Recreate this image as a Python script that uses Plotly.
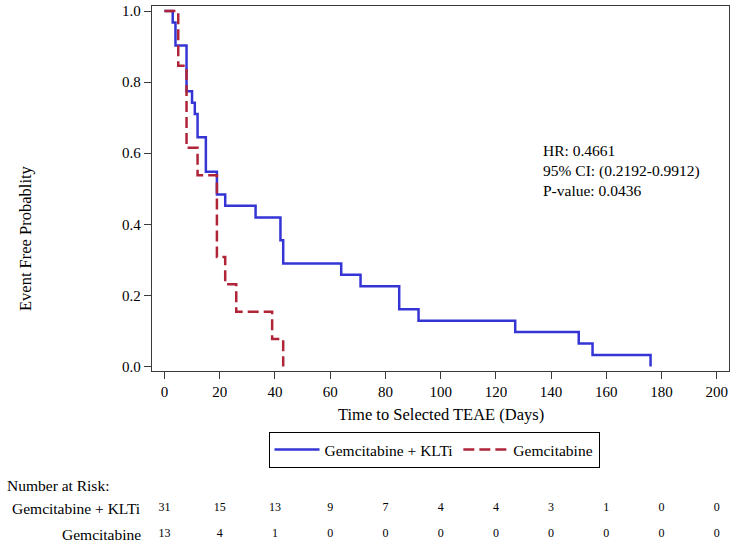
import plotly.graph_objects as go

# ---- data ----
combo_name = "Gemcitabine + KLTi"
combo_time = [0, 3, 4, 8, 10, 11, 12, 15, 19, 22, 33, 42, 43, 64, 71, 85, 92, 127, 150, 155, 176]
combo_surv = [1.0, 0.968, 0.903, 0.774, 0.742, 0.710, 0.645, 0.548, 0.484, 0.452, 0.419,
              0.355, 0.290, 0.258, 0.226, 0.161, 0.129, 0.097, 0.065, 0.032, 0.0]

mono_name = "Gemcitabine"
mono_time = [0, 5, 8, 12, 19, 22, 26, 39, 43]
mono_surv = [1.0, 0.846, 0.615, 0.538, 0.308, 0.231, 0.154, 0.077, 0.0]

risk_times = [0, 20, 40, 60, 80, 100, 120, 140, 160, 180, 200]
risk_combo = [31, 15, 13, 9, 7, 4, 4, 3, 1, 0, 0]
risk_mono = [13, 4, 1, 0, 0, 0, 0, 0, 0, 0, 0]

x_ticks = [0, 20, 40, 60, 80, 100, 120, 140, 160, 180, 200]
y_ticks = [0.0, 0.2, 0.4, 0.6, 0.8, 1.0]
stats_text = "HR: 0.4661<br>95% CI: (0.2192-0.9912)<br>P-value: 0.0436"

# ---- styling ----
W, H = 735, 550
FONT = "Liberation Serif, Times New Roman, serif"
BLUE = "#3535D6"
RED = "#B02438"
AX = "#3a3a3a"

px_left, px_right, px_top, px_bottom = 152, 729, 6, 370.5
xdom = [px_left / W, px_right / W]
ydom = [1 - px_bottom / H, 1 - px_top / H]
xrange_ = [-4.5, 204.4]
yrange_ = [-0.0113, 1.0141]

fig = go.Figure()
fig.add_trace(go.Scatter(x=combo_time, y=combo_surv, mode="lines", name=combo_name,
                         line=dict(color=BLUE, width=2.5, shape="hv"), hoverinfo="skip"))
fig.add_trace(go.Scatter(x=mono_time, y=mono_surv, mode="lines", name=mono_name,
                         line=dict(color=RED, width=2.5, shape="hv", dash="11px,5px"),
                         hoverinfo="skip"))

# number-at-risk rows on a second axis aligned with the time axis
fig.add_trace(go.Scatter(x=risk_times, y=[1] * len(risk_times), mode="text",
                         text=[str(v) for v in risk_combo], xaxis="x2", yaxis="y2",
                         textfont=dict(family=FONT, size=12, color="black"),
                         showlegend=False, hoverinfo="skip"))
fig.add_trace(go.Scatter(x=risk_times, y=[0] * len(risk_times), mode="text",
                         text=[str(v) for v in risk_mono], xaxis="x2", yaxis="y2",
                         textfont=dict(family=FONT, size=12, color="black"),
                         showlegend=False, hoverinfo="skip"))

axis_common = dict(showline=True, linecolor=AX, linewidth=1.3, mirror=True,
                   ticks="outside", ticklen=7, tickcolor=AX, tickwidth=1.3,
                   showgrid=False, zeroline=False, automargin=False,
                   tickfont=dict(family=FONT, size=15, color="black"))

fig.update_layout(
    width=W, height=H,
    margin=dict(l=0, r=0, t=0, b=0),
    paper_bgcolor="white", plot_bgcolor="white",
    font=dict(family=FONT, size=15, color="black"),
    xaxis=dict(domain=xdom, range=xrange_, tickvals=x_ticks, anchor="y", **axis_common),
    yaxis=dict(domain=ydom, range=yrange_, tickvals=y_ticks, tickformat=".1f",
               anchor="x", **axis_common),
    xaxis2=dict(domain=xdom, range=xrange_, anchor="y2", visible=False),
    yaxis2=dict(domain=[1 - 547 / H, 1 - 495 / H], range=[-0.5, 1.5], anchor="x2",
                visible=False),
    showlegend=True,
    legend=dict(orientation="h", x=434 / W, xanchor="center", y=1 - 432 / H,
                yanchor="top", bordercolor="black", borderwidth=1,
                font=dict(family=FONT, size=15.5, color="black"),
                bgcolor="white", itemwidth=45),
    annotations=[
        dict(text="Time to Selected TEAE (Days)", xref="paper", yref="paper",
             x=440.5 / W, y=1 - 414 / H, xanchor="center", yanchor="middle",
             showarrow=False, font=dict(family=FONT, size=16.5)),
        dict(text="Event Free Probablity", xref="paper", yref="paper",
             x=25 / W, y=1 - 238 / H, xanchor="center", yanchor="middle",
             textangle=-90, showarrow=False, font=dict(family=FONT, size=16.5)),
        dict(text=stats_text, xref="x", yref="y", x=136.5, y=0.55,
             xanchor="left", yanchor="middle", align="left", showarrow=False,
             font=dict(family=FONT, size=15.5)),
        dict(text="Number at Risk:", xref="paper", yref="paper", x=5 / W,
             y=1 - 485 / H, xanchor="left", yanchor="middle", showarrow=False,
             font=dict(family=FONT, size=15.5)),
        dict(text=combo_name, xref="paper", yref="y2", x=143 / W, y=1,
             xanchor="right", yanchor="middle", showarrow=False,
             font=dict(family=FONT, size=15.5)),
        dict(text=mono_name, xref="paper", yref="y2", x=143 / W, y=0,
             xanchor="right", yanchor="middle", showarrow=False,
             font=dict(family=FONT, size=15.5)),
    ],
)

fig.write_html("out.html", config={"displayModeBar": False},
               post_script="document.body.style.margin='0';document.body.style.overflow='hidden';")
